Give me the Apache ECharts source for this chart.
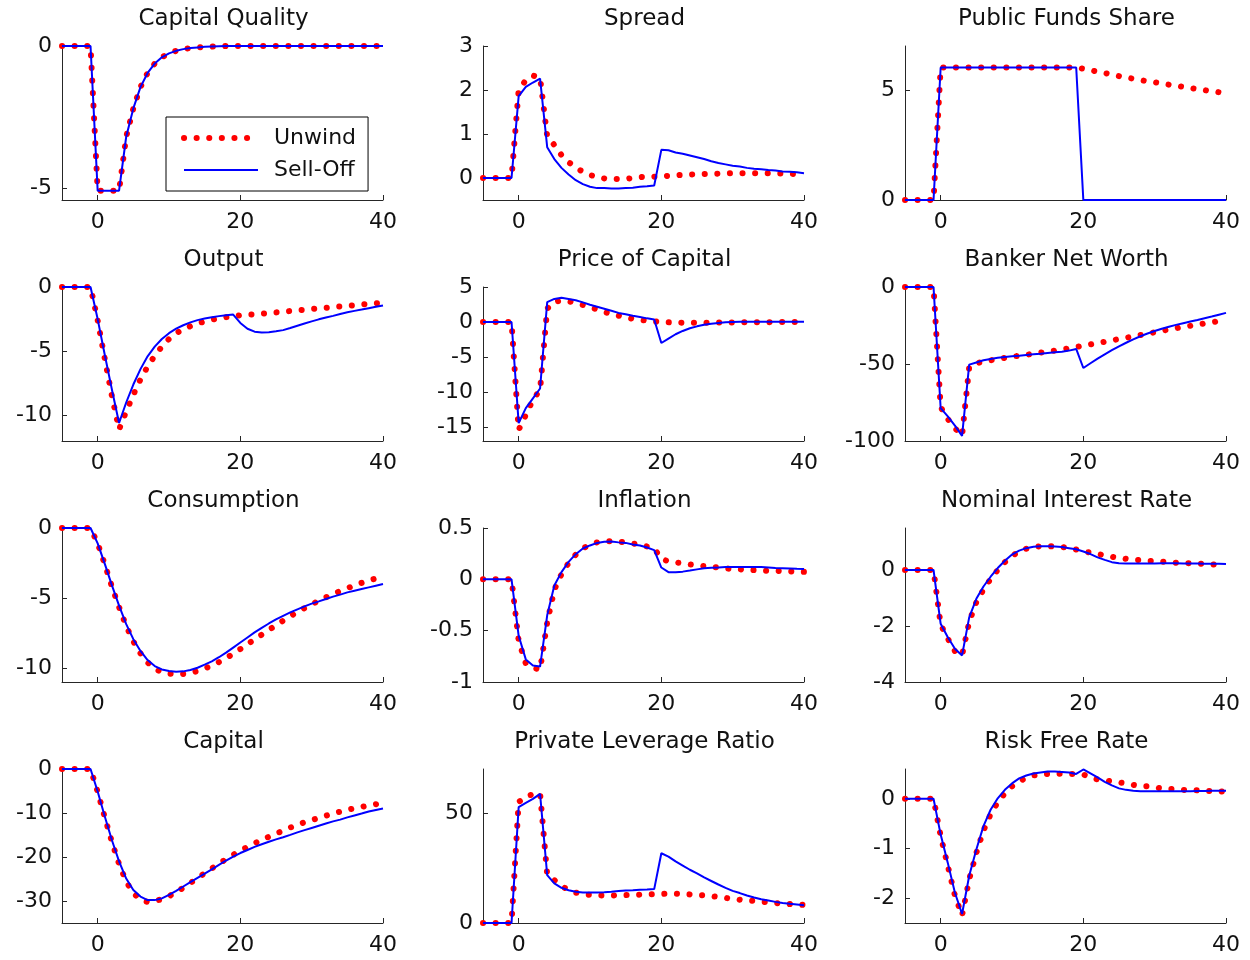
<!DOCTYPE html>
<html><head><meta charset="utf-8">
<script src="https://cdn.jsdelivr.net/npm/echarts@6/dist/echarts.min.js"></script>
<style>html,body{margin:0;padding:0;background:#fff}#c{width:1250px;height:960px}</style>
</head><body><div id="c"></div><script>
// ---------- data ----------
const periods = [-5,-4,-3,-2,-1,0,1,2,3,4,5,6,7,8,9,10,11,12,13,14,15,16,17,18,19,20,21,22,23,24,25,26,27,28,29,30,31,32,33,34,35,36,37,38,39,40];
const xTicks = [0, 20, 40];
const seriesNames = ['Unwind', 'Sell-Off'];
const titles = ['Capital Quality','Spread','Public Funds Share','Output','Price of Capital','Banker Net Worth','Consumption','Inflation','Nominal Interest Rate','Capital','Private Leverage Ratio','Risk Free Rate'];

const capQualUnwind  = [0,0,0,0,0,-5.1,-5.1,-5.1,-5.1,-3.2,-2.2,-1.45,-0.95,-0.62,-0.4,-0.26,-0.17,-0.11,-0.07,-0.05,-0.03,-0.02,-0.01,0,0,0,0,0,0,0,0,0,0,0,0,0,0,0,0,0,0,0,0,0,0,0];
const capQualSellOff = [0,0,0,0,0,-5.1,-5.1,-5.1,-5.1,-3.2,-2.2,-1.45,-0.95,-0.62,-0.4,-0.26,-0.17,-0.11,-0.07,-0.05,-0.03,-0.02,-0.01,0,0,0,0,0,0,0,0,0,0,0,0,0,0,0,0,0,0,0,0,0,0,0];

const spreadUnwind  = [0,0,0,0,0,2.0,2.22,2.33,2.28,0.95,0.75,0.52,0.36,0.24,0.14,0.07,0.02,-0.01,-0.02,-0.02,-0.02,0.0,0.02,0.03,0.03,0.04,0.05,0.06,0.07,0.08,0.085,0.09,0.095,0.1,0.105,0.11,0.11,0.11,0.11,0.11,0.11,0.1,0.1,0.095,0.09,0.09];
const spreadSellOff = [0,0,0,0,0,1.86,2.07,2.17,2.26,0.70,0.43,0.23,0.08,-0.05,-0.14,-0.2,-0.23,-0.23,-0.24,-0.24,-0.23,-0.22,-0.2,-0.19,-0.17,0.64,0.63,0.58,0.55,0.51,0.47,0.43,0.38,0.34,0.31,0.28,0.26,0.23,0.21,0.2,0.18,0.17,0.15,0.14,0.13,0.11];

const publicUnwind  = [0,0,0,0,0,6.02,6.02,6.02,6.02,6.02,6.02,6.02,6.02,6.02,6.02,6.02,6.02,6.02,6.02,6.02,6.02,6.02,6.02,6.02,6.02,5.97,5.9,5.83,5.77,5.7,5.63,5.57,5.51,5.45,5.4,5.35,5.3,5.24,5.19,5.14,5.09,5.04,4.99,4.95,4.9,4.86];
const publicSellOff = [0,0,0,0,0,6.02,6.02,6.02,6.02,6.02,6.02,6.02,6.02,6.02,6.02,6.02,6.02,6.02,6.02,6.02,6.02,6.02,6.02,6.02,6.02,0,0,0,0,0,0,0,0,0,0,0,0,0,0,0,0,0,0,0,0,0];

const outputUnwind  = [0,0,0,0,0,-2.6,-5.6,-8.5,-11.1,-9.7,-8.4,-7.2,-6.2,-5.35,-4.65,-4.05,-3.6,-3.3,-3.05,-2.85,-2.68,-2.55,-2.44,-2.35,-2.27,-2.2,-2.17,-2.13,-2.08,-2.03,-1.98,-1.93,-1.87,-1.82,-1.77,-1.72,-1.67,-1.62,-1.57,-1.52,-1.47,-1.42,-1.37,-1.32,-1.27,-1.22];
const outputSellOff = [0,0,0,0,0,-2.5,-5.3,-8.0,-10.6,-9.0,-7.6,-6.4,-5.4,-4.65,-4.05,-3.6,-3.25,-2.98,-2.76,-2.58,-2.45,-2.35,-2.27,-2.2,-2.15,-2.8,-3.25,-3.48,-3.55,-3.52,-3.45,-3.36,-3.2,-3.02,-2.85,-2.68,-2.52,-2.38,-2.25,-2.1,-1.97,-1.86,-1.76,-1.65,-1.54,-1.44];

const priceUnwind  = [0,0,0,0,0,-15.4,-13.3,-11.1,-9.7,1.9,2.9,3.05,2.95,2.75,2.45,2.1,1.8,1.45,1.15,0.9,0.65,0.45,0.3,0.18,0.08,0.02,-0.05,-0.08,-0.1,-0.1,-0.1,-0.1,-0.1,-0.08,-0.07,-0.06,-0.05,-0.04,-0.03,-0.02,-0.02,-0.01,-0.01,0,0,0];
const priceSellOff = [0,0,0,0,0,-14.45,-12.3,-10.9,-9.5,2.85,3.3,3.46,3.3,3.1,2.8,2.46,2.18,1.9,1.6,1.3,1.1,0.88,0.7,0.52,0.35,-3.0,-2.37,-1.75,-1.28,-0.9,-0.62,-0.38,-0.24,-0.14,-0.05,0,0.02,0.03,0.04,0.04,0.04,0.04,0.03,0.03,0.02,0.02];

const netWorthUnwind  = [0,0,0,0,0,-78,-85.7,-91.7,-96.5,-52,-49.5,-48.5,-47.6,-46.8,-46,-45.3,-44.6,-44,-43.3,-42.6,-42,-41.3,-40.6,-39.8,-38.9,-38.2,-37.3,-36.4,-35.6,-34.7,-33.8,-33,-32.1,-31.2,-30.3,-29.4,-28.5,-27.6,-26.7,-26,-25.2,-24.4,-23.6,-22.9,-22.2,-21.5];
const netWorthSellOff = [0,0,0,0,0,-78.7,-84,-90,-96.7,-50.4,-49,-47.6,-46.7,-46,-45.4,-45,-44.6,-44.1,-43.7,-43.3,-42.8,-42.4,-42,-41.3,-40.2,-52.6,-49.5,-46.5,-43.7,-41,-38.5,-36.2,-34,-32,-30.2,-28.6,-27.1,-25.8,-24.6,-23.5,-22.4,-21.4,-20.3,-19.2,-18,-16.8];

const consUnwind  = [0,0,0,0,0,-1.1,-2.6,-4.2,-5.65,-7.0,-8.1,-8.95,-9.6,-10.05,-10.3,-10.4,-10.45,-10.42,-10.35,-10.22,-10.04,-9.83,-9.58,-9.3,-8.98,-8.65,-8.3,-7.95,-7.62,-7.28,-6.95,-6.62,-6.3,-6.0,-5.72,-5.45,-5.2,-4.95,-4.72,-4.5,-4.3,-4.1,-3.92,-3.75,-3.6,-3.47];
const consSellOff = [0,0,0,0,0,-1.1,-2.56,-4.1,-5.55,-6.87,-7.94,-8.78,-9.43,-9.86,-10.1,-10.21,-10.26,-10.24,-10.14,-9.98,-9.76,-9.52,-9.23,-8.9,-8.54,-8.18,-7.82,-7.46,-7.13,-6.82,-6.53,-6.27,-6.03,-5.81,-5.6,-5.4,-5.24,-5.07,-4.9,-4.76,-4.6,-4.48,-4.36,-4.24,-4.12,-4.0];

const inflUnwind  = [0,0,0,0,0,-0.6,-0.82,-0.86,-0.88,-0.42,-0.1,0.05,0.16,0.24,0.3,0.34,0.36,0.37,0.37,0.365,0.36,0.35,0.335,0.32,0.3,0.2,0.175,0.165,0.155,0.145,0.137,0.128,0.12,0.115,0.107,0.1,0.097,0.093,0.09,0.086,0.084,0.083,0.08,0.078,0.075,0.073];
const inflSellOff = [0,0,0,0,0,-0.55,-0.78,-0.84,-0.85,-0.35,-0.06,0.07,0.17,0.245,0.3,0.33,0.355,0.365,0.368,0.36,0.355,0.34,0.33,0.31,0.285,0.115,0.07,0.068,0.075,0.085,0.097,0.107,0.113,0.116,0.12,0.12,0.12,0.12,0.12,0.12,0.115,0.11,0.108,0.105,0.102,0.1];

const nomRateUnwind  = [0,0,0,0,0,-1.95,-2.45,-2.9,-3.05,-1.85,-1.15,-0.7,-0.32,0.0,0.28,0.5,0.66,0.76,0.82,0.85,0.85,0.84,0.82,0.78,0.73,0.67,0.62,0.57,0.52,0.47,0.43,0.4,0.37,0.35,0.33,0.31,0.3,0.28,0.26,0.25,0.24,0.23,0.21,0.2,0.18,0.17];
const nomRateSellOff = [0,0,0,0,0,-1.92,-2.4,-2.81,-3.05,-1.69,-1.03,-0.59,-0.24,0.07,0.33,0.55,0.69,0.78,0.83,0.85,0.85,0.84,0.82,0.78,0.74,0.66,0.57,0.45,0.36,0.28,0.24,0.23,0.23,0.23,0.23,0.23,0.24,0.24,0.24,0.23,0.23,0.23,0.22,0.22,0.22,0.21];

const capitalUnwind  = [0,0,0,0,0,-5.2,-11,-16.6,-21.6,-25.6,-28.2,-29.7,-30.2,-30.0,-29.6,-28.9,-28.0,-27.0,-25.9,-24.8,-23.7,-22.6,-21.5,-20.5,-19.5,-18.6,-17.7,-16.9,-16.1,-15.4,-14.7,-14.0,-13.3,-12.7,-12.1,-11.6,-11.1,-10.6,-10.1,-9.7,-9.3,-8.9,-8.6,-8.3,-8.0,-7.8];
const capitalSellOff = [0,0,0,0,0,-5.1,-10.8,-16.2,-21,-24.9,-27.5,-29,-29.8,-29.8,-29.4,-28.6,-27.7,-26.7,-25.7,-24.75,-23.8,-22.8,-21.8,-20.8,-19.9,-19.1,-18.4,-17.7,-17.1,-16.55,-16.0,-15.5,-14.96,-14.4,-13.9,-13.4,-12.9,-12.4,-11.9,-11.5,-11.0,-10.55,-10.1,-9.64,-9.3,-9.0];

const leverageUnwind  = [0,0,0,0,0,55,57.5,58.5,59,22,19.5,16.8,15,13.8,13.1,12.8,12.6,12.5,12.5,12.6,12.7,12.8,12.9,13,13.1,13.2,13.3,13.3,13.2,13.0,12.8,12.5,12.2,11.8,11.4,11.0,10.6,10.3,10.0,9.7,9.4,9.1,8.8,8.6,8.4,8.2];
const leverageSellOff = [0,0,0,0,0,52.7,54.6,56.4,58.7,21.8,18,16,14.9,14.2,13.9,13.9,13.9,14,14.2,14.5,14.8,14.9,15.1,15.2,15.4,31.7,30.2,28,26.1,24.2,22.6,20.7,19.1,17.5,16,14.6,13.6,12.5,11.6,10.8,10.2,9.6,9.1,8.7,8.4,8.1];

const riskFreeUnwind  = [0,0,0,0,0,-0.75,-1.35,-1.95,-2.35,-1.62,-1.09,-0.64,-0.31,-0.07,0.11,0.25,0.35,0.42,0.47,0.49,0.5,0.51,0.5,0.5,0.5,0.49,0.43,0.39,0.37,0.35,0.33,0.31,0.28,0.26,0.25,0.23,0.21,0.2,0.19,0.18,0.175,0.17,0.16,0.155,0.15,0.14];
const riskFreeSellOff = [0,0,0,0,0,-0.72,-1.29,-1.89,-2.32,-1.55,-1.02,-0.55,-0.22,0.01,0.18,0.31,0.41,0.47,0.51,0.53,0.55,0.55,0.54,0.53,0.5,0.59,0.51,0.43,0.34,0.27,0.21,0.18,0.16,0.15,0.15,0.15,0.15,0.15,0.15,0.15,0.15,0.155,0.155,0.16,0.16,0.16];

const yMins  = [-5.43, -0.5, 0, -12, -17, -100, -11, -1, -4, -35, 0, -2.5];
const yMaxs  = [0, 3, 7, 0, 5, 0, 0, 0.5, 1.5, 0, 70, 0.6];
const yTicks = [[-5,0],[0,1,2,3],[0,5],[-10,-5,0],[-15,-10,-5,0,5],[-100,-50,0],[-10,-5,0],[-1,-0.5,0,0.5],[-4,-2,0],[-30,-20,-10,0],[0,50],[-2,-1,0]];

const unwindData  = [capQualUnwind, spreadUnwind, publicUnwind, outputUnwind, priceUnwind, netWorthUnwind, consUnwind, inflUnwind, nomRateUnwind, capitalUnwind, leverageUnwind, riskFreeUnwind];
const sellOffData = [capQualSellOff, spreadSellOff, publicSellOff, outputSellOff, priceSellOff, netWorthSellOff, consSellOff, inflSellOff, nomRateSellOff, capitalSellOff, leverageSellOff, riskFreeSellOff];

// ---------- layout / style ----------
const FONT = 'DejaVu Sans';
const TXT = '#111111';
const AX = '#262626';
const RED_STYLE = {color: '#FF0000', width: 6, type: [0.1, 12.5], cap: 'round'};
const BLUE_STYLE = {color: '#0000FF', width: 2};
const colLeft = [62, 483, 905];
const rowTop = [46, 287, 528, 769];
const GW = 321, GH = 154;

const grids = [], xAxes = [], yAxes = [], series = [], titleList = [];
const pairs = vals => periods.map((t, i) => [t, vals[i]]);

for (let i = 0; i < 12; i++) {
  const c = i % 3, r = Math.floor(i / 3);
  grids.push({left: colLeft[c], top: rowTop[r], width: GW, height: GH, containLabel: false});
  xAxes.push({
    type: 'value', gridIndex: i, min: -5, max: 40,
    axisLine: {show: true, onZero: false, lineStyle: {color: AX, width: 1}},
    axisTick: {show: true, inside: true, length: 5, customValues: xTicks, lineStyle: {color: AX}},
    axisLabel: {customValues: xTicks, margin: 11, color: TXT, fontFamily: FONT, fontSize: 22},
    splitLine: {show: false}
  });
  yAxes.push({
    type: 'value', gridIndex: i, min: yMins[i], max: yMaxs[i],
    axisLine: {show: true, onZero: false, lineStyle: {color: AX, width: 1}},
    axisTick: {show: true, inside: true, length: 5, customValues: yTicks[i], lineStyle: {color: AX}},
    axisLabel: {customValues: yTicks[i], margin: 10, color: TXT, fontFamily: FONT, fontSize: 22},
    splitLine: {show: false}
  });
  series.push({
    name: seriesNames[0], type: 'line', xAxisIndex: i, yAxisIndex: i,
    data: pairs(unwindData[i]), symbol: 'none', clip: false, z: 2,
    lineStyle: RED_STYLE, itemStyle: {color: '#FF0000'}
  });
  series.push({
    name: seriesNames[1], type: 'line', xAxisIndex: i, yAxisIndex: i,
    data: pairs(sellOffData[i]), symbol: 'none', clip: false, z: 3,
    lineStyle: BLUE_STYLE, itemStyle: {color: '#0000FF'}
  });
  titleList.push({
    text: titles[i], left: colLeft[c] + GW / 2 + 1, top: rowTop[r] - 39, textAlign: 'center', padding: 0,
    textStyle: {fontFamily: FONT, fontSize: 23, fontWeight: 'normal', color: TXT, lineHeight: 24}
  });
}

const chart = echarts.init(document.getElementById('c'), null, {renderer: 'canvas'});
chart.setOption({
  backgroundColor: '#ffffff',
  animation: false,
  title: titleList,
  grid: grids, xAxis: xAxes, yAxis: yAxes, series: series,
  legend: {
    data: [
      {name: seriesNames[0], itemStyle: {opacity: 0}, lineStyle: RED_STYLE},
      {name: seriesNames[1], itemStyle: {opacity: 0}, lineStyle: BLUE_STYLE}
    ],
    orient: 'vertical', left: 166, top: 117,
    padding: [10, 12, 10, 15], itemWidth: 74, itemHeight: 20, itemGap: 10,
    borderColor: '#000', borderWidth: 1, backgroundColor: '#fff',
    textStyle: {fontFamily: FONT, fontSize: 22, color: TXT, padding: [0, 0, 0, 11]},
    selectedMode: false
  }
});
</script></body></html>
